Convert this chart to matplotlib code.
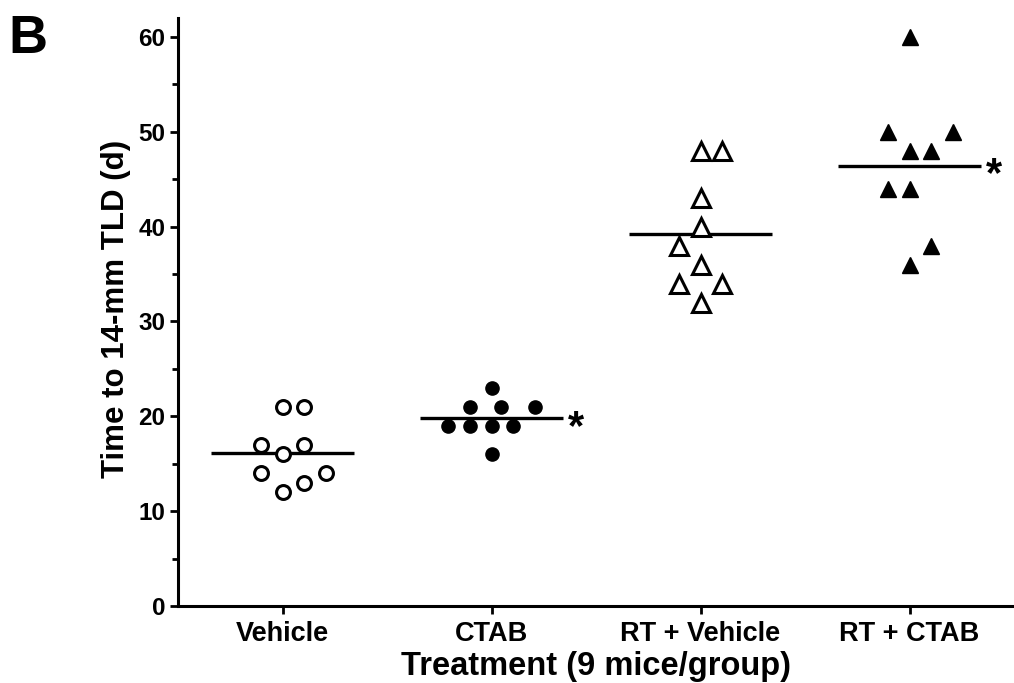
import numpy as np
import matplotlib
matplotlib.use("Agg")
import matplotlib.pyplot as plt

plt.rcParams['font.family'] = ['Liberation Sans', 'DejaVu Sans']
plt.rcParams['font.weight'] = 'bold'

# ---- data ----
groups = ["Vehicle", "CTAB", "RT + Vehicle", "RT + CTAB"]
vehicle = [21, 21, 17, 17, 16, 14, 14, 13, 12]
ctab = [23, 21, 21, 21, 19, 19, 19, 19, 16]
rt_vehicle = [48, 48, 43, 40, 38, 36, 34, 34, 32]
rt_ctab = [60, 50, 50, 48, 48, 44, 44, 38, 36]
significant = [False, True, False, True]

# ---- layout (horizontal jitter slots for each point) ----
vehicle_slots = [0, 1, -1, 1, 0, -1, 2, 1, 0]
ctab_slots = [0, -1, 0.45, 2, -2, -1, 0, 1, 0]
rt_vehicle_slots = [0, 1, 0, 0, -1, 0, -1, 1, 0]
rt_ctab_slots = [0, -1, 2, 0, 1, -1, 0, 1, 0]

series = [vehicle, ctab, rt_vehicle, rt_ctab]
slots = [vehicle_slots, ctab_slots, rt_vehicle_slots, rt_ctab_slots]
styles = [
    dict(marker='o', mfc='white', mec='black', ms=10.0, mew=2.2),
    dict(marker='o', mfc='black', mec='black', ms=9.5, mew=1.0),
    dict(marker='^', mfc='white', mec='black', ms=12.5, mew=2.2),
    dict(marker='^', mfc='black', mec='black', ms=11.5, mew=1.0),
]
step = 0.103
half = 0.34

fig = plt.figure(figsize=(10.14, 6.83), dpi=100)
ax = fig.add_axes([178/1014, 77/683, 836/1014, 588/683])

for i, (vals, sl, st) in enumerate(zip(series, slots, styles)):
    xs = i + np.array(sl) * step
    ax.plot(xs, vals, linestyle='none', clip_on=False, zorder=3, **st)
    m = np.mean(vals)
    ax.hlines(m, i - half, i + half, colors='black', linewidth=2.4, zorder=2)
    if significant[i]:
        ax.text(i + half + 0.025, m - 1.0, '*', fontsize=30, fontweight='bold',
                ha='left', va='center')

ax.set_xlim(-0.5, 3.5)
ax.set_ylim(0, 62)
ax.set_yticks(np.arange(0, 61, 10))
ax.set_yticks(np.arange(5, 61, 10), minor=True)
ax.set_xticks(range(4))
ax.set_xticklabels(groups)

for s in ['top', 'right']:
    ax.spines[s].set_visible(False)
for s in ['left', 'bottom']:
    ax.spines[s].set_linewidth(2.2)

ax.tick_params(axis='both', which='major', direction='out', length=6, width=2.0, pad=3)
ax.tick_params(axis='y', which='major', labelsize=17.5)
ax.tick_params(axis='x', which='major', labelsize=19.5, pad=5)
ax.tick_params(axis='y', which='minor', direction='out', length=4, width=2.0)
for lab in ax.get_xticklabels() + ax.get_yticklabels():
    lab.set_fontweight('bold')

ax.set_ylabel('Time to 14-mm TLD (d)', fontsize=22.5, fontweight='bold')
ax.yaxis.set_label_coords(-0.056, 0.505)
ax.set_xlabel('Treatment (9 mice/group)', fontsize=23.5, fontweight='bold', labelpad=3)

fig.text(8/1014, 1 - 14/683, 'B', fontsize=39, fontweight='bold', ha='left', va='top')

fig.savefig('out.png', dpi=100)
